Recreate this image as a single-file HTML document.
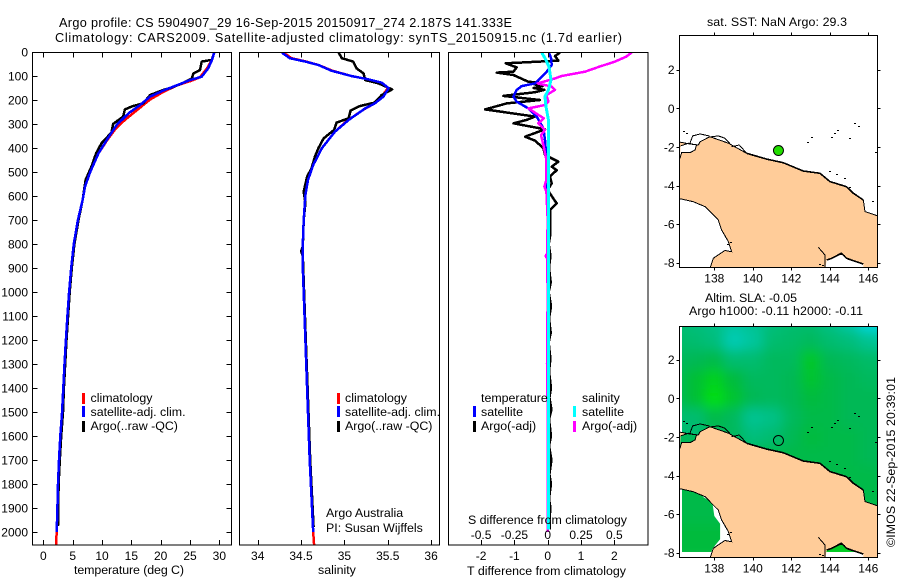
<!DOCTYPE html>
<html>
<head>
<meta charset="utf-8">
<style>
html,body{margin:0;padding:0;background:#fff;width:900px;height:580px;overflow:hidden}
svg{display:block}
text{font-family:"Liberation Sans",sans-serif;font-size:12px;fill:#000}
.wide text,text.wide{font-size:12.4px}
text.ttl{font-size:12.7px}
</style>
</head>
<body>
<svg id="chart" xmlns="http://www.w3.org/2000/svg" width="900" height="580" viewBox="0 0 900 580">
<defs>
<clipPath id="clipT"><rect x="32" y="52" width="200" height="493"/></clipPath>
<clipPath id="clipS"><rect x="239" y="52" width="201" height="493"/></clipPath>
<clipPath id="clipD"><rect x="448" y="52" width="200" height="493"/></clipPath>
<clipPath id="clipMapTop"><rect x="679" y="35" width="199" height="232"/></clipPath>
<clipPath id="clipMapBot"><rect x="679" y="326" width="199" height="231"/></clipPath>
<filter id="soft" x="-5%" y="-5%" width="110%" height="110%"><feGaussianBlur stdDeviation="6"/></filter>
</defs>
<text class="ttl" x="59" y="27" textLength="453">Argo profile: CS 5904907_29 16-Sep-2015 20150917_274 2.187S 141.333E</text>
<text class="ttl" x="55" y="42" textLength="567">Climatology: CARS2009. Satellite-adjusted climatology: synTS_20150915.nc (1.7d earlier)</text>

<g id="gT"></g>
<g id="gS"></g>
<g id="gD"></g>
<g id="gM1"></g>
<g id="gM2"></g>

<text class="wide" x="74" y="574" textLength="110">temperature (deg C)</text>
<text class="wide" x="318" y="574">salinity</text>
<text class="wide" x="467" y="575" textLength="159">T difference from climatology</text>
<text class="wide" x="468" y="524" textLength="159">S difference from climatology</text>

<g class="wide">
<rect x="82" y="393" width="3" height="11" fill="#f00"/>
<rect x="82" y="406" width="3" height="11" fill="#00f"/>
<rect x="82" y="421" width="3" height="11" fill="#000"/>
<text x="90.5" y="402">climatology</text>
<text x="90.5" y="416">satellite-adj. clim.</text>
<text x="90.5" y="430">Argo(..raw -QC)</text>
</g>
<g class="wide">
<rect x="337" y="393" width="3" height="11" fill="#f00"/>
<rect x="337" y="406" width="3" height="11" fill="#00f"/>
<rect x="337" y="421" width="3" height="11" fill="#000"/>
<text x="345" y="402">climatology</text>
<text x="345" y="416">satellite-adj. clim.</text>
<text x="345" y="430">Argo(..raw -QC)</text>
<text x="326" y="517">Argo Australia</text>
<text x="326" y="532">PI: Susan Wijffels</text>
</g>
<g class="wide">
<text x="481" y="402">temperature</text>
<text x="582" y="402">salinity</text>
<rect x="473" y="406" width="3" height="11" fill="#00f"/>
<rect x="473" y="421" width="3" height="11" fill="#000"/>
<rect x="573" y="406" width="3" height="11" fill="#0ff"/>
<rect x="573" y="421" width="3" height="11" fill="#f0f"/>
<text x="481" y="416">satellite</text>
<text x="481" y="430">Argo(-adj)</text>
<text x="582" y="416">satellite</text>
<text x="582" y="430">Argo(-adj)</text>
</g>

<text class="wide" x="707" y="26" textLength="140">sat. SST: NaN Argo: 29.3</text>
<text class="wide" x="705" y="302" textLength="92">Altim. SLA: -0.05</text>
<text class="wide" x="689" y="315" textLength="174">Argo h1000: -0.11 h2000: -0.11</text>
<text class="wide" transform="translate(895,547) rotate(-90)" textLength="170">©IMOS 22-Sep-2015 20:39:01</text>
</svg>

<script>
// ---- temperature profile (depth in m, temperature in deg C)
const climTDepth = [0,33,68,105,120,140,167,198,249,283,320,370,422,499,561,617,700,800,900,1000,1100,1200,1300,1400,1500,1600,1700,1800,1900,2000,2054];
const climTValue = [29.15,28.75,27.9,26.7,25.2,22.7,20.4,18.2,15.6,13.9,12.3,10.8,9.4,8.0,7.1,6.7,5.9,5.2,4.75,4.4,4.1,3.85,3.6,3.4,3.2,2.9,2.67,2.5,2.4,2.28,2.16];
const satTDepth = [0,33,68,103,117,139,158,186,221,256,304,367,422,499,561,617,700,800,900,1000,1100,1200,1300,1400,1500,1600,1700,1800,1900,2000];
const satTValue = [29.15,28.75,28.1,27.0,25.0,22.7,20.7,18.2,16.5,14.5,12.5,10.8,9.4,8.0,7.1,6.7,5.9,5.2,4.75,4.4,4.1,3.85,3.6,3.4,3.2,2.9,2.67,2.5,2.4,2.28];
const argoTDepth = [0,33,40,75,89,110,131,151,156,179,214,225,239,269,300,336,381,422,478,533,617,700,800,900,1000,1200,1400,1500,1600,1700,1800,1900,1975];
const argoTValue = [29.15,28.7,27.0,26.7,25.6,25.3,23.6,21.6,20.7,18.2,17.0,15.3,13.9,13.6,11.9,11.6,9.9,9.0,8.2,7.2,6.7,6.0,5.3,4.85,4.5,3.95,3.5,3.35,3.05,2.8,2.6,2.55,2.5];
// ---- salinity profile (psu)
const climSDepth = [3,26,40,54,78,100,114,128,151,186,218,240,287,332,401,471,533,596,700,800,900,1000,1200,1400,1700,2000,2054];
const climSValue = [34.3,34.39,34.56,34.7,34.86,35.08,35.28,35.43,35.5,35.43,35.33,35.22,35.03,34.89,34.74,34.64,34.58,34.55,34.53,34.52,34.52,34.53,34.55,34.57,34.6,34.64,34.65];
const satSDepth = [3,26,40,54,78,100,114,128,151,186,214,235,283,332,401,471,533,596,700,800,900,1000,1200,1400,1700,2000];
const satSValue = [34.28,34.37,34.55,34.7,34.85,35.08,35.28,35.43,35.51,35.45,35.35,35.24,35.05,34.89,34.74,34.64,34.58,34.55,34.53,34.52,34.52,34.53,34.55,34.57,34.6,34.64];
const argoSDepth = [0,26,40,68,89,117,130,156,179,211,225,244,276,294,325,360,401,436,485,519,582,630,700,810,830,850,1000,1200,1400,1700,1980];
const argoSValue = [34.93,34.97,35.1,35.14,35.22,35.24,35.39,35.55,35.43,35.35,35.18,35.07,35.05,34.91,34.88,34.76,34.7,34.66,34.62,34.57,34.53,34.55,34.53,34.52,34.5,34.52,34.535,34.555,34.575,34.605,34.645];
// ---- difference from climatology
const diffSatTDepth = [3,26,54,82,103,131,142,158,186,207,235,269,318,367,422,506,700,1000,2000];
const diffSatTValue = [0.04,0.1,0.12,-0.03,-0.18,-0.38,-0.78,-0.93,-1.03,-0.93,-0.58,-0.33,-0.13,-0.08,-0.05,-0.03,0,0,0];
const diffArgoTDepth = [3,17,36,44,47,64,82,86,96,124,128,135,142,150,158,168,183,200,214,239,269,283,297,322,353,369,401,429,457,478,492,519,547,575,631,658,700,760,800,850,900,960,1000,1060,1110,1170,1210,1280,1330,1400,1440,1490,1530,1600,1640,1700,1760,1800,1860,1900,1950,1990];
const diffArgoTValue = [0.37,0.22,0.32,-0.83,-1.26,-0.93,-1.03,-1.53,-1.03,-0.58,-0.2,-0.4,-0.15,-0.42,-0.1,-0.4,-1.33,-0.23,-1.23,-1.88,-0.38,-0.63,-1.03,-0.08,-0.68,-0.38,-0.13,-0.08,0.32,0.12,0.27,0.07,0.12,0,0.27,0.07,0.07,0.08,0.03,0.08,0.04,0.09,0.03,0.1,0.04,0.09,0.03,0.08,0.04,0.1,0.05,0.11,0.04,0.1,0.04,0.11,0.05,0.1,0.04,0.08,0.05,0.07];
const diffArgoSDepth = [3,19,40,61,82,100,110,131,144,158,179,207,221,235,262,276,297,325,346,394,450,533,561,582,700,840,850,860,1000,1300,1320,1500,2000];
const diffArgoSValue = [0.63,0.59,0.505,0.39,0.28,0.105,0.055,-0.075,0.03,0.055,-0.01,0.005,-0.02,-0.145,-0.07,-0.03,-0.07,-0.02,-0.05,-0.03,-0.01,-0.01,-0.025,-0.01,0,-0.005,-0.015,-0.005,0,-0.005,-0.005,0,0];
const diffSatSDepth = [3,26,61,89,117,158,186,228,283,366,700,1200,1990];
const diffSatSValue = [-0.045,-0.02,0.01,0.0175,0.025,0.005,-0.02,-0.0125,0.005,0.005,0.005,0.005,0.005];
// ---- tick labels
const depthTicks = [0,100,200,300,400,500,600,700,800,900,1000,1100,1200,1300,1400,1500,1600,1700,1800,1900,2000];
const tempTicks = [0,5,10,15,20,25,30];
const salTicks = ['34','34.5','35','35.5','36'];
const diffTTicks = ['-2','-1','0','1','2'];
const diffSTicks = ['-0.5','-0.25','0','0.25','0.5'];
const lonTicks = [138,140,142,144,146];
const latTicks = [2,0,-2,-4,-6,-8];
// ---- float position
const floatLon = [141.333];
const floatLat = [-2.187];
// ---- map geography [lon,lat]
const landPolygon = [[136.1,-1.73],[136.74,-1.85],[137.17,-1.9],[137.26,-1.73],[137.77,-1.47],[138.73,-1.81],[139.68,-2.33],[140.72,-2.63],[141.58,-2.82],[142.62,-3.25],[143.49,-3.37],[144.01,-3.8],[144.87,-4.06],[145.22,-4.4],[145.74,-4.75],[145.83,-5.35],[146.6,-5.61],[146.6,-8.4],[145.74,-8.4],[145.74,-8.07],[144.87,-7.77],[144.61,-7.51],[144.1,-7.77],[143.84,-7.86],[143.75,-8.4],[137.74,-8.4],[137.95,-7.77],[138.55,-7.37],[138.9,-7.43],[138.73,-6.91],[138.38,-6.3],[138.21,-5.79],[137.77,-5.35],[137.52,-5.1],[136.91,-4.84],[136.1,-4.66]];
const pocketPolygon = [[136.25,-1.95],[136.65,-1.81],[137.08,-1.9],[137.0,-2.16],[136.74,-2.3],[136.3,-2.3],[136.22,-2.59]];
const thickCoast = [[139.68,-2.33],[140.72,-2.63],[141.58,-2.82],[142.62,-3.25],[143.49,-3.37],[144.01,-3.8],[144.87,-4.06],[145.22,-4.4],[145.74,-4.75]];
const thickBayCoast = [[143.84,-7.86],[144.1,-7.77],[144.61,-7.51],[144.87,-7.77],[145.74,-8.07]];
const thinCoast1 = [[136.1,-1.73],[136.74,-1.85],[137.17,-1.9],[137.26,-1.73],[137.77,-1.47],[138.73,-1.81],[139.68,-2.33]];
const thinCoast2 = [[145.74,-4.75],[145.83,-5.35],[146.6,-5.61]];
const thinCoast3 = [[137.74,-8.4],[137.95,-7.77],[138.55,-7.37],[138.9,-7.43],[138.73,-6.91],[138.38,-6.3],[138.21,-5.79],[137.77,-5.35],[137.52,-5.1],[136.91,-4.84],[136.1,-4.66]];
const thinCoast4 = [[136.74,-1.81],[136.88,-1.43],[137.26,-1.33],[137.74,-1.43]];
const thinCoast5 = [[137.86,-1.47],[138.21,-1.43],[138.55,-1.55],[138.81,-1.81]];
const thinCoast6 = [[138.9,-1.99],[139.3,-1.9],[139.68,-2.33]];
const thinCoast7 = [[136.25,-1.95],[136.65,-1.81],[137.08,-1.9],[137.0,-2.16],[136.74,-2.3],[136.3,-2.3],[136.22,-2.59]];
const thinCoast8 = [[143.4,-7.2],[143.75,-7.6],[143.75,-8.3]];
const islets = [[145.31,-0.74],[145.53,-0.92],[144.44,-1.12],[144.27,-1.3],[144.1,-1.47],[145.05,-1.55],[143.06,-1.47],[142.85,-1.73],[144.01,-3.25],[144.35,-3.4],[144.79,-3.63],[145.05,-4.09],[146.22,-4.8],[146.4,-2.25],[136.4,-1.2],[136.6,-1.3],[138.85,-6.95],[138.7,-7.05],[144.6,-7.55],[144.75,-7.6],[143.5,-8.05],[143.65,-8.1]];
// ---- sea level anomaly (m): one row per latitude, one column per longitude
const slaLon = [136,137,138,139,140,141,142,143,144,145,146,147];
const slaLat = [4,3,2,1,0,-1,-2,-3,-4,-5,-6,-7,-8];
const slaRow0 = [-0.05,-0.06,-0.07,-0.09,-0.08,-0.06,-0.05,-0.05,-0.07,-0.1,-0.15,-0.16];
const slaRow1 = [-0.04,-0.05,-0.06,-0.11,-0.09,-0.05,-0.04,-0.03,-0.05,-0.06,-0.08,-0.09];
const slaRow2 = [-0.03,-0.02,-0.01,-0.05,-0.05,-0.03,-0.03,0.03,-0.02,-0.03,-0.04,-0.04];
const slaRow3 = [-0.02,0.01,0.05,0,-0.03,-0.03,-0.02,0.02,-0.01,-0.02,-0.03,-0.03];
const slaRow4 = [-0.02,0.01,0.08,0.02,-0.02,-0.03,-0.02,0,-0.01,-0.02,-0.02,-0.02];
const slaRow5 = [-0.05,-0.05,-0.01,-0.03,-0.08,-0.07,-0.03,-0.01,-0.01,-0.02,-0.02,-0.02];
const slaRow6 = [-0.05,-0.05,-0.03,-0.03,-0.06,-0.05,-0.02,0,-0.01,-0.01,-0.02,-0.02];
const slaRow7 = [-0.02,-0.02,-0.02,-0.01,-0.01,-0.01,-0.01,-0.01,-0.01,-0.01,-0.02,-0.02];
const slaRow8 = [-0.01,-0.01,-0.01,-0.01,-0.01,-0.01,-0.01,-0.01,-0.01,-0.01,-0.01,-0.02];
const slaRow9 = [-0.01,-0.01,-0.01,-0.01,-0.01,-0.01,-0.01,-0.01,-0.01,-0.01,-0.01,-0.01];
const slaRow10 = [-0.01,-0.01,-0.01,-0.01,-0.01,-0.01,-0.01,-0.01,-0.01,-0.01,-0.01,-0.01];
const slaRow11 = [0,0,0,0,0,0,0,0,0.02,0.02,0,0];
const slaRow12 = [0,0,0,0,0,0,0,0,0.04,0.04,0,0];
const slaRows = [slaRow0,slaRow1,slaRow2,slaRow3,slaRow4,slaRow5,slaRow6,slaRow7,slaRow8,slaRow9,slaRow10,slaRow11,slaRow12];
const slaStops = [-0.15,-0.1,-0.05,-0.02,0,0.04,0.08];
const slaColors = [[0,216,224],[0,200,168],[0,188,112],[0,184,84],[0,187,60],[0,204,32],[0,222,16]];

const NS = 'http://www.w3.org/2000/svg';
function mk(tag, attrs, parent) {
  const el = document.createElementNS(NS, tag);
  for (const k in attrs) el.setAttribute(k, attrs[k]);
  parent.appendChild(el);
  return el;
}
const yD = d => 52 + d * 0.24;
const xT = v => 43.33 + v * 5.867;
const xS = v => 257.7 + (v - 34) * 86.7;
const xDT = v => 547.7 + v * 33.3;
const xDS = v => 547.7 + v * 133.2;

function series(parent, clip, depth, vals, xf, color, width, name) {
  const pts = depth.map((d, i) => xf(vals[i]).toFixed(1) + ',' + yD(d).toFixed(1)).join(' ');
  const el = mk('polyline', {points: pts, fill: 'none', stroke: color, 'stroke-width': width, 'clip-path': 'url(#' + clip + ')', 'shape-rendering': 'crispEdges', 'stroke-linejoin': 'round'}, parent);
  
  
}
function box(parent, x, y, w, h) {
  const el = mk('rect', {x: x, y: y, width: w, height: h, fill: 'none', stroke: '#000', 'stroke-width': 1, 'shape-rendering': 'crispEdges'}, parent);
  
  
}
function tick(parent, x1, y1, x2, y2) {
  const el = mk('line', {x1: x1, y1: y1, x2: x2, y2: y2, stroke: '#000', 'stroke-width': 1, 'shape-rendering': 'crispEdges'}, parent);
  
  
}
function label(parent, x, y, str, anchor) {
  const el = mk('text', {x: x, y: y, 'text-anchor': anchor}, parent);
  el.textContent = str;
  
  
}

// temperature panel
const gT = document.getElementById('gT');
series(gT, 'clipT', climTDepth, climTValue, xT, '#f00', 2.5, 'temperature-climatology-line');
series(gT, 'clipT', argoTDepth, argoTValue, xT, '#000', 2.5, 'temperature-argo-line');
series(gT, 'clipT', satTDepth, satTValue, xT, '#00f', 2.5, 'temperature-satellite-line');
box(gT, 32.5, 52.5, 199, 492.5);
depthTicks.forEach(d => {
  tick(gT, 32.5, Math.round(yD(d)) + 0.5, 37.5, Math.round(yD(d)) + 0.5);
  tick(gT, 226.5, Math.round(yD(d)) + 0.5, 231.5, Math.round(yD(d)) + 0.5);
  label(gT, 28, yD(d) + 4.5, String(d), 'end');
});
tempTicks.forEach(t => {
  tick(gT, Math.round(xT(t)) + 0.5, 52.5, Math.round(xT(t)) + 0.5, 57.5);
  tick(gT, Math.round(xT(t)) + 0.5, 540, Math.round(xT(t)) + 0.5, 545);
  label(gT, xT(t), 560, String(t), 'middle');
});

// salinity panel
const gS = document.getElementById('gS');
series(gS, 'clipS', climSDepth, climSValue, xS, '#f00', 2.5, 'salinity-climatology-line');
series(gS, 'clipS', argoSDepth, argoSValue, xS, '#000', 2.5, 'salinity-argo-line');
series(gS, 'clipS', satSDepth, satSValue, xS, '#00f', 2.5, 'salinity-satellite-line');
box(gS, 239.5, 52.5, 200, 492.5);
salTicks.forEach(s => {
  const x = Math.round(xS(parseFloat(s))) + 0.5;
  tick(gS, x, 52.5, x, 57.5);
  tick(gS, x, 540, x, 545);
  label(gS, xS(parseFloat(s)), 560, s, 'middle');
});

// difference panel
const gD = document.getElementById('gD');
series(gD, 'clipD', diffArgoTDepth, diffArgoTValue, xDT, '#000', 2.5, 'difference-t-argo-line');
series(gD, 'clipD', diffSatTDepth, diffSatTValue, xDT, '#00f', 2.5, 'difference-t-satellite-line');
series(gD, 'clipD', diffArgoSDepth, diffArgoSValue, xDS, '#f0f', 2.5, 'difference-s-argo-line');
series(gD, 'clipD', diffSatSDepth, diffSatSValue, xDS, '#0ff', 3, 'difference-s-satellite-line');
box(gD, 448.5, 52.5, 199.5, 492.5);
diffTTicks.forEach(s => {
  const x = Math.round(xDT(parseFloat(s))) + 0.5;
  tick(gD, x, 52.5, x, 57.5);
  tick(gD, x, 540, x, 545);
  label(gD, xDT(parseFloat(s)), 560, s, 'middle');
});
diffSTicks.forEach(s => {
  label(gD, xDS(parseFloat(s)), 539, s, 'middle');
});

// maps
function drawMap(g, originY, clipId, framed) {
  const px = lon => 714.3 + (lon - 138) * 19.25;
  const py = lat => originY - lat * 19.3;
  const pstr = arr => arr.map(p => px(p[0]).toFixed(1) + ',' + py(p[1]).toFixed(1)).join(' ');
  const inner = mk('g', {'clip-path': 'url(#' + clipId + ')'}, g);
  
  
  if (framed) {
    const heat = mk('g', {filter: 'url(#soft)'}, inner);
    
    
    slaRows.forEach((row, r) => {
      row.forEach((v, c) => {
        const cell = mk('rect', {x: px(slaLon[c] - 0.5), y: py(slaLat[r] + 0.5), width: 20, height: 20, fill: slaColor(v)}, heat);
        
        
      });
    });
    const strips = [[679, 326, 3, 231], [679, 552, 199, 5]];
    strips.forEach(s => {
      const st = mk('rect', {x: s[0], y: s[1], width: s[2], height: s[3], fill: '#fff'}, inner);
      
      
    });
    const nd = mk('polygon', {points: pstr([[137.4,-5.1],[137.9,-5.4],[138.0,-6.1],[138.3,-6.5],[138.3,-7.3],[137.9,-7.8],[137.7,-8.4],[139,-8.4],[139,-5],[138,-5]]), fill: '#fff'}, inner);
    
    
  }
  const land = mk('polygon', {points: pstr(landPolygon), fill: '#FFCC99'}, inner);
  
  
  const pocket = mk('polygon', {points: pstr(pocketPolygon), fill: framed ? '#00B858' : '#fff'}, inner);
  
  
  [thinCoast1, thinCoast2, thinCoast3, thinCoast4, thinCoast5, thinCoast6, thinCoast7, thinCoast8].forEach(c => {
    const l = mk('polyline', {points: pstr(c), fill: 'none', stroke: '#000', 'stroke-width': 1, 'shape-rendering': 'crispEdges'}, inner);
    
    
  });
  [thickCoast, thickBayCoast].forEach(c => {
    const l = mk('polyline', {points: pstr(c), fill: 'none', stroke: '#000', 'stroke-width': 1.6, 'shape-rendering': 'crispEdges'}, inner);
    
    
  });
  islets.forEach(p => {
    const d = mk('rect', {x: Math.round(px(p[0])) - 1, y: Math.round(py(p[1])), width: 2, height: 1, fill: '#000'}, inner);
    
    
  });
  const fc = mk('circle', {cx: px(floatLon[0]), cy: py(floatLat[0]), r: 5, fill: framed ? 'none' : '#22DD00', stroke: '#000', 'stroke-width': 1}, inner);
  
  
  const top = originY + (framed ? -72.6 : -73), bot = originY + (framed ? 158.4 : 158.7);
  box(g, 679.5, Math.round(top) + 0.5, 198, Math.round(bot - top));
  lonTicks.forEach(lon => {
    const x = Math.round(px(lon)) + 0.5;
    tick(g, x, Math.round(top) - 2.5, x, Math.round(top) + 0.5);
    tick(g, x, Math.round(bot) + 0.5, x, Math.round(bot) + 3.5);
    label(g, px(lon), Math.round(bot) + 15.5, String(lon), 'middle');
  });
  latTicks.forEach(lat => {
    const y = Math.round(py(lat)) + 0.5;
    tick(g, 676.5, y, 679.5, y);
    tick(g, 877.5, y, 880.5, y);
    label(g, 674.5, py(lat) + 4.5, String(lat), 'end');
  });
}
function slaColor(v) {
  let i = 0;
  while (i < slaStops.length - 2 && v > slaStops[i + 1]) i++;
  const f = Math.max(0, Math.min(1, (v - slaStops[i]) / (slaStops[i + 1] - slaStops[i])));
  const a = slaColors[i], b = slaColors[i + 1];
  return 'rgb(' + [0, 1, 2].map(k => Math.round(a[k] + (b[k] - a[k]) * f)).join(',') + ')';
}
drawMap(document.getElementById('gM1'), 108.3, 'clipMapTop', false);
drawMap(document.getElementById('gM2'), 398.3, 'clipMapBot', true);
</script>
</body>
</html>
